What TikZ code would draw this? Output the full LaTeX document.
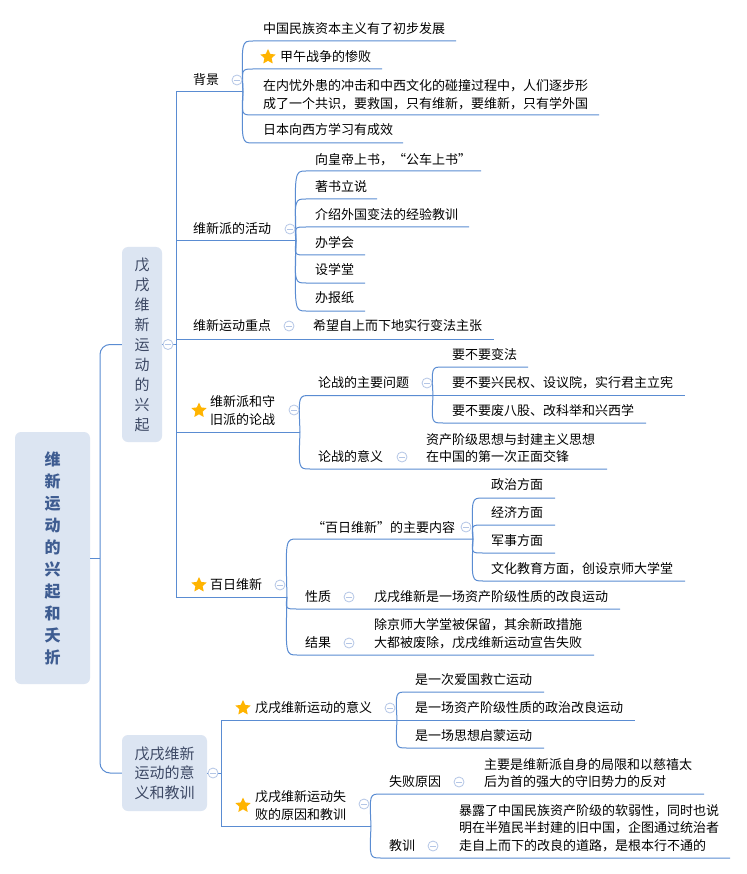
\documentclass[tikz,border=0pt]{standalone}
\usepackage{fontspec}
\newfontfamily\cjk{Noto Sans CJK SC}
\usetikzlibrary{shapes.geometric}
\definecolor{lnc}{RGB}{90,140,210}
\definecolor{boxc}{RGB}{220,229,242}
\definecolor{rootc}{RGB}{62,92,145}
\definecolor{lonec}{RGB}{60,72,100}
\definecolor{circc}{RGB}{180,198,230}
\definecolor{starc}{RGB}{255,180,0}
\tikzset{
 ln/.style={draw=lnc, line width=1pt},
 tx/.style={font=\cjk\fontsize{13}{17.5}\selectfont, anchor=west, inner sep=0pt, align=left, text=black},
 cc/.style={circle, draw=circc, fill=white, line width=0.8pt, minimum size=10pt, inner sep=0pt,
   path picture={\draw[circc, line width=0.8pt] ([xshift=-2.6pt]path picture bounding box.center) -- ([xshift=2.6pt]path picture bounding box.center);}},
 st/.style={star, star points=5, star point ratio=2.1, fill=starc, inner sep=0pt, minimum size=16pt},
 bx/.style={rounded corners=6pt, fill=boxc, inner sep=0pt, align=center},
}
\newcommand\brc[4]{\draw[ln] (#1,#2) .. controls (#1-1.5,#3) and (#1-1.5,#3) .. (#1+10,#3) -- (#4,#3);}
\begin{document}
\begin{tikzpicture}[x=1pt,y=-1pt]
\fill[white] (0,0) rectangle (746,874);
\useasboundingbox (0,0) rectangle (746,874);

% ---------- level 0 / level 1 boxes ----------
\node[bx, minimum width=75pt, minimum height=252pt, font=\cjk\bfseries\fontsize{16}{22}\selectfont, text=rootc] (root) at (52.5,558) {维\\新\\运\\动\\的\\兴\\起\\和\\夭\\折};
\node[bx, minimum width=40pt, minimum height=195pt, font=\cjk\fontsize{15}{20}\selectfont, text=lonec] (A) at (142,344.5) {戊\\戌\\维\\新\\运\\动\\的\\兴\\起};
\node[bx, minimum width=85pt, minimum height=76pt, font=\cjk\fontsize{15}{19.5}\selectfont, text=lonec] (B) at (164.5,773) {戊戌维新\\运动的意\\义和教训};

\coordinate (rt) at (100,558);
\draw[ln] (root.east) -- (rt);
\draw[ln, rounded corners=10pt] (A.west) -| (rt) |- (B.west);

% ---------- branch A ----------
\coordinate (Atr) at (176,344.5);
\draw[ln] (A.east) -- (Atr);
\coordinate (bgP) at (243,92);
\coordinate (actP) at (296,241);
\coordinate (debP) at (300,432);
\coordinate (hrP) at (287,597);
\draw[ln] (bgP) -- (176,92) -- (176,597) -- (hrP);
\draw[ln] (176,241) -- (actP);
\draw[ln] (176,339) -- (494,339);
\draw[ln] (176,432) -- (debP);

\node[tx] (bg) at (193,80) {背景};
\node[tx] (act) at (193,229) {维新派的活动};
\node[tx] (key) at (193,326) {维新运动重点};
\node[st] (s1) at (199,410.5) {};
\node[tx] (deb) at (210,410.5) {维新派和守\\旧派的论战};
\node[st] (s2) at (199,585) {};
\node[tx] (hr) at (210,585) {百日维新};

% background children
\brc{243}{92}{41}{456}
\brc{243}{92}{69}{382}
\brc{243}{92}{115}{599}
\brc{243}{92}{143}{403}
\node[tx] (bg1) at (263,29) {中国民族资本主义有了初步发展};
\node[st] (s3) at (268,57) {};
\node[tx] (bg2) at (280,57) {甲午战争的惨败};
\node[tx] (bg3) at (263,94.5) {在内忧外患的冲击和中西文化的碰撞过程中，人们逐步形\\成了一个共识，要救国，只有维新，要维新，只有学外国};
\node[tx] (bg4) at (263,130) {日本向西方学习有成效};

% activities children
\brc{296}{241}{171}{481}
\brc{296}{241}{199}{377}
\brc{296}{241}{227}{469}
\brc{296}{241}{255}{365}
\brc{296}{241}{283}{365}
\brc{296}{241}{311}{365}
\node[tx] (a1) at (315,160) {向皇帝上书，“公车上书”};
\node[tx] (a2) at (315,187) {著书立说};
\node[tx] (a3) at (315,215) {介绍外国变法的经验教训};
\node[tx] (a4) at (315,243) {办学会};
\node[tx] (a5) at (315,270) {设学堂};
\node[tx] (a6) at (315,298) {办报纸};

% key point child
\node[tx] (k1) at (313,326) {希望自上而下地实行变法主张};

% debate children
\brc{300}{432}{395.5}{433}
\brc{300}{432}{469}{607}
\node[tx] (d1) at (318,383) {论战的主要问题};
\node[tx] (d2) at (318,457) {论战的意义};
\node[tx] (d2a) at (426,448) {资产阶级思想与封建主义思想\\在中国的第一次正面交锋};
\brc{433}{395.5}{367}{528}
\draw[ln] (433,395.5) -- (685,395.5);
\brc{433}{395.5}{423}{646}
\node[tx] (q1) at (452,355) {要不要变法};
\node[tx] (q2) at (452,383) {要不要兴民权、设议院，实行君主立宪};
\node[tx] (q3) at (452,411) {要不要废八股、改科举和兴西学};

% hundred days children
\brc{287}{597}{539}{473}
\brc{287}{597}{609}{620}
\brc{287}{597}{655}{594}
\node[tx] (h1) at (312,528) {“百日维新”的主要内容};
\node[tx] (h2) at (305,597) {性质};
\node[tx] (h2a) at (374,597) {戊戌维新是一场资产阶级性质的改良运动};
\node[tx] (h3) at (305,643) {结果};
\node[tx] (h3a) at (374,633.5) {除京师大学堂被保留，其余新政措施\\大都被废除，戊戌维新运动宣告失败};
\brc{473}{539}{498}{555}
\brc{473}{539}{525}{555}
\brc{473}{539}{553}{555}
\brc{473}{539}{581}{685}
\node[tx] (p1) at (491,485) {政治方面};
\node[tx] (p2) at (491,513) {经济方面};
\node[tx] (p3) at (491,541) {军事方面};
\node[tx] (p4) at (491,569) {文化教育方面，创设京师大学堂};

% ---------- branch B ----------
\coordinate (Btr) at (221,773);
\coordinate (sigP) at (397,720);
\coordinate (failP) at (371,826);
\draw[ln] (B.east) -- (Btr);
\draw[ln] (sigP) -- (221,720) -- (221,826) -- (failP);
\node[st] (s4) at (243,708) {};
\node[tx] (sig) at (255,708) {戊戌维新运动的意义};
\node[st] (s5) at (243,805.5) {};
\node[tx] (fail) at (255,805.5) {戊戌维新运动失\\败的原因和教训};

\brc{397}{720}{692}{544}
\draw[ln] (sigP) -- (635,720);
\brc{397}{720}{748}{544}
\node[tx] (g1) at (415,680) {是一次爱国救亡运动};
\node[tx] (g2) at (415,708) {是一场资产阶级性质的政治改良运动};
\node[tx] (g3) at (415,736) {是一场思想启蒙运动};

\brc{371}{826}{794}{704}
\brc{371}{826}{858}{730}
\node[tx] (f1) at (389,782) {失败原因};
\node[tx] (f1a) at (484,773) {主要是维新派自身的局限和以慈禧太\\后为首的强大的守旧势力的反对};
\node[tx] (f2) at (389,846) {教训};
\node[tx] (f2a) at (459,828) {暴露了中国民族资产阶级的软弱性，同时也说\\明在半殖民半封建的旧中国，企图通过统治者\\走自上而下的改良的道路，是根本行不通的};

% ---------- collapse markers ----------
\node[cc] (cA) at (168,344.5) {};
\node[cc] (cB) at (213,773) {};
\node[cc] (cbg) at (237,80) {};
\node[cc] (cact) at (290,229) {};
\node[cc] (ckey) at (289,326) {};
\node[cc] (cdeb) at (294,410) {};
\node[cc] (chr) at (280,585) {};
\node[cc] (cd1) at (427,383) {};
\node[cc] (cd2) at (402,457) {};
\node[cc] (ch1) at (466,527) {};
\node[cc] (ch2) at (349,597) {};
\node[cc] (ch3) at (349,643) {};
\node[cc] (csig) at (390,708) {};
\node[cc] (cfail) at (364,804) {};
\node[cc] (cf1) at (459,782) {};
\node[cc] (cf2) at (433,846) {};
\end{tikzpicture}
\end{document}
